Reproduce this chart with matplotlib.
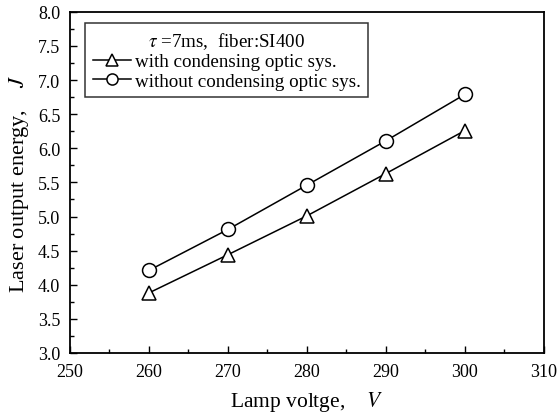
import matplotlib
matplotlib.use('Agg')
from matplotlib import pyplot as plt

voltage = [260, 270, 280, 290, 300]
with_condensing = [3.88, 4.44, 5.01, 5.63, 6.26]
without_condensing = [4.21, 4.81, 5.46, 6.11, 6.79]
xticks = [250, 260, 270, 280, 290, 300, 310]
yticks = [3.0, 3.5, 4.0, 4.5, 5.0, 5.5, 6.0, 6.5, 7.0, 7.5, 8.0]


def main():
    plt.rcParams['font.family'] = ['Liberation Serif', 'DejaVu Serif']
    plt.rcParams['mathtext.fontset'] = 'stix'
    fig = plt.figure(figsize=(5.59, 4.14), dpi=100)
    ax = fig.add_axes([0.125, 0.145, 0.848, 0.824])
    ax.plot(voltage, with_condensing, '-^', color='black', lw=1.1,
            markersize=10, markerfacecolor='white', markeredgewidth=1.1,
            label='with condensing optic sys.')
    ax.plot(voltage, without_condensing, '-o', color='black', lw=1.1,
            markersize=10, markerfacecolor='white', markeredgewidth=1.1,
            label='without condensing optic sys.')
    ax.set_xlim(250, 310)
    ax.set_ylim(3.0, 8.0)
    ax.set_xticks(xticks)
    ax.set_yticks(yticks)
    ax.set_yticklabels(['{:.1f}'.format(v) for v in yticks])
    ax.set_xticks([255, 265, 275, 285, 295, 305], minor=True)
    ax.set_yticks([3.25 + 0.5 * i for i in range(10)], minor=True)
    ax.tick_params(which='both', direction='in', labelsize=13, width=1)
    ax.tick_params(axis='x', which='major', pad=7)
    ax.tick_params(axis='y', which='major', pad=7)
    ax.tick_params(which='major', length=5)
    ax.tick_params(which='minor', length=3)
    for s in ax.spines.values():
        s.set_linewidth(1.3)
    ax.set_xlabel('Lamp voltge,    $V$', fontsize=15.5, labelpad=7)
    ax.set_ylabel('Laser output energy,    $J$', fontsize=16, labelpad=5)
    leg = ax.legend(title='$\\tau$ =7ms,  fiber:SI400', loc='upper left',
                    bbox_to_anchor=(0.02, 0.985), fontsize=13.7,
                    title_fontsize=13.7, frameon=True, fancybox=False,
                    edgecolor='black', handlelength=2.0, borderpad=0.4,
                    labelspacing=0.1, handletextpad=0.2, borderaxespad=0.3)
    leg.get_frame().set_linewidth(1.1)
    for h in leg.legend_handles:
        h.set_markersize(8)
    fig.savefig('out.png', dpi=100)


if __name__ == '__main__':
    main()
